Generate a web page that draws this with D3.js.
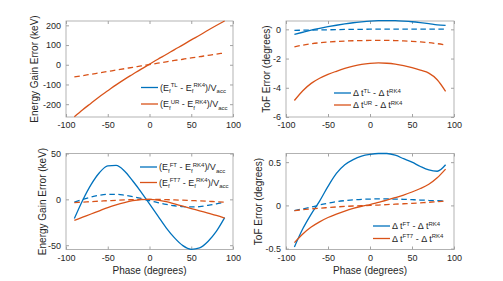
<!DOCTYPE html>
<html>
<head>
<meta charset="utf-8">
<script src="https://cdn.jsdelivr.net/npm/d3@7"></script>
<style>
  body { margin: 0; background: #fff; }
  svg { display: block; }
  text { font-family: "Liberation Sans", Arial, sans-serif; fill: #262626; }
</style>
</head>
<body>
<svg id="chart" width="503" height="281"></svg>
<script>
// phase grid (degrees)
const phase = [-90, -80, -70, -60, -50, -40, -30, -20, -10, 0, 10, 20, 30, 40, 50, 60, 70, 80, 90];

// top left: energy gain error (keV)
const urGain     = [-264, -228, -195, -162, -132, -102, -74, -48, -22, 3, 28, 52, 77, 101, 126, 150, 175, 199, 222];
const urGainDash = [-61, -55, -48, -41, -34, -27, -20, -13, -6, 1, 8, 15, 22, 28, 35, 41, 48, 54, 60];
// TL coincides with UR in the original, so it is hidden under the orange lines
const tlGain     = [-264, -228, -195, -162, -132, -102, -74, -48, -22, 3, 28, 52, 77, 101, 126, 150, 175, 199, 222];
const tlGainDash = [-61, -55, -48, -41, -34, -27, -20, -13, -6, 1, 8, 15, 22, 28, 35, 41, 48, 54, 60];

// top right: ToF error (degrees)
const tlTof     = [-0.34, -0.2, -0.05, 0.07, 0.18, 0.28, 0.37, 0.45, 0.51, 0.56, 0.59, 0.6, 0.59, 0.56, 0.52, 0.46, 0.39, 0.31, 0.27];
const tlTofDash = [-0.07, -0.06, -0.05, -0.04, -0.03, -0.02, -0.01, 0, 0, 0.01, 0.01, 0.02, 0.02, 0.02, 0.02, 0.02, 0.02, 0.02, 0.02];
const urTof     = [-4.87, -4.2, -3.7, -3.35, -3.08, -2.87, -2.68, -2.52, -2.4, -2.33, -2.3, -2.32, -2.38, -2.48, -2.62, -2.8, -3.0, -3.45, -4.25];
const urTofDash = [-1.2, -1.08, -0.99, -0.92, -0.87, -0.83, -0.8, -0.78, -0.77, -0.76, -0.76, -0.76, -0.77, -0.79, -0.82, -0.86, -0.91, -0.98, -1.07];

// bottom left: energy gain error (keV)
const ftGain      = [-21, -1, 16, 29, 36.5, 37, 31, 20, 8, -5, -18, -31, -42, -50.5, -54.5, -53, -46, -35, -20];
const ftGainDash  = [-3, 0, 2.5, 4.5, 5.5, 5.5, 4.5, 3, 1, -1.5, -3.5, -5.5, -7, -8, -8.3, -8, -6.5, -5, -3];
const ft7Gain     = [-23, -19.5, -16, -12.5, -9, -6, -3.5, -1.5, -0.3, 0, -0.8, -2.5, -5, -7.5, -10, -12.5, -15, -17.5, -20.5];
const ft7GainDash = [-3.5, -3, -2.5, -2, -1.5, -1, -0.6, -0.3, -0.1, 0, -0.1, -0.3, -0.6, -0.9, -1.3, -1.7, -2.1, -2.6, -3];

// bottom right: ToF error (degrees)
const ftTof      = [-0.48, -0.27, -0.1, 0.05, 0.22, 0.37, 0.47, 0.53, 0.57, 0.59, 0.6, 0.6, 0.58, 0.54, 0.5, 0.45, 0.41, 0.395, 0.47];
const ftTofDash  = [-0.06, -0.04, -0.02, 0.005, 0.025, 0.043, 0.055, 0.064, 0.07, 0.073, 0.075, 0.075, 0.073, 0.07, 0.066, 0.062, 0.058, 0.054, 0.05];
const ft7Tof     = [-0.43, -0.33, -0.25, -0.19, -0.14, -0.1, -0.065, -0.035, -0.01, 0.01, 0.035, 0.06, 0.09, 0.12, 0.155, 0.195, 0.245, 0.32, 0.42];
const ft7TofDash = [-0.06, -0.05, -0.04, -0.032, -0.025, -0.018, -0.012, -0.007, -0.003, 0, 0.004, 0.009, 0.014, 0.019, 0.024, 0.03, 0.036, 0.043, 0.05];

const xTicks = [-100, -50, 0, 50, 100];
const BLUE = "#0072BD", ORANGE = "#D95319";

const svg = d3.select("#chart");
svg.append("rect").attr("width", 503).attr("height", 281).attr("fill", "#fff");

function drawPanel(p) {
    const x = d3.scaleLinear().domain([-100, 100]).range([p.left, p.right]);
    const y = d3.scaleLinear().domain(p.yDomain).range([p.bottom, p.top]);
    const g = svg.append("g");

    // ticks (inside, all four sides)
    const fmt = d => String(d);
    g.append("g").attr("transform", `translate(0,${p.bottom})`)
        .call(d3.axisBottom(x).tickValues(xTicks).tickSizeInner(-3).tickSizeOuter(0).tickPadding(5).tickFormat(fmt));
    g.append("g").attr("transform", `translate(0,${p.top})`)
        .call(d3.axisTop(x).tickValues(xTicks).tickSizeInner(-3).tickSizeOuter(0).tickFormat(""));
    g.append("g").attr("transform", `translate(${p.left},0)`)
        .call(d3.axisLeft(y).tickValues(p.yTicks).tickSizeInner(-3).tickSizeOuter(0).tickPadding(5).tickFormat(fmt));
    g.append("g").attr("transform", `translate(${p.right},0)`)
        .call(d3.axisRight(y).tickValues(p.yTicks).tickSizeInner(-3).tickSizeOuter(0).tickFormat(""));
    g.selectAll(".domain").remove();
    g.selectAll(".tick line").attr("stroke", "#8c8c8c").attr("stroke-width", 0.8);
    g.selectAll(".tick text").attr("font-size", 9).attr("fill", "#262626")
        .attr("font-family", "'Liberation Sans', Arial, sans-serif");

    g.append("rect")
        .attr("x", p.left).attr("y", p.top)
        .attr("width", p.right - p.left).attr("height", p.bottom - p.top)
        .attr("fill", "none").attr("stroke", "#a0a0a0").attr("stroke-width", 0.8);

    const line = d3.line().curve(d3.curveMonotoneX)
        .x((d, i) => x(phase[i])).y(d => y(d));

    p.series.filter(s => !s.hidden).forEach(s => {
        g.append("path").datum(s.values)
            .attr("d", line)
            .attr("fill", "none")
            .attr("stroke", s.color)
            .attr("stroke-width", 1.3)
            .attr("stroke-dasharray", s.dashed ? "5.5,3.5" : null);
    });

    // y label
    g.append("text")
        .attr("transform", `translate(${p.yLabelX},${(p.top + p.bottom) / 2}) rotate(-90)`)
        .attr("text-anchor", "middle").attr("dy", "0.35em")
        .attr("font-size", 10).text(p.yLabel);
    if (p.xLabel) {
        g.append("text")
            .attr("x", (p.left + p.right) / 2).attr("y", p.bottom + 24)
            .attr("text-anchor", "middle")
            .attr("font-size", 10).text(p.xLabel);
    }

    // legend
    p.legend.forEach((item, i) => {
        const cy = p.legendY[i];
        g.append("line")
            .attr("x1", p.legendX).attr("x2", p.legendX + 17)
            .attr("y1", cy).attr("y2", cy)
            .attr("stroke", item.color).attr("stroke-width", 1.3);
        const t = g.append("text").attr("x", p.legendX + 19).attr("y", cy + 3).attr("font-size", 9);
        item.parts.forEach(part => {
            const off = part.sub ? 2.5 : part.sup ? -3.5 : 0;
            t.append("tspan")
                .attr("y", cy + 3 + off)
                .attr("font-size", part.sub || part.sup ? 6 : 9)
                .text(part.t);
        });
    });
}

const energyLegend = (a, b) => [
    {color: BLUE, parts: [{t: "(E"}, {t: "f", sub: true}, {t: a, sup: true}, {t: " - E"}, {t: "f", sub: true}, {t: "RK4", sup: true}, {t: ")/V"}, {t: "acc", sub: true}]},
    {color: ORANGE, parts: [{t: "(E"}, {t: "f", sub: true}, {t: b, sup: true}, {t: " - E"}, {t: "f", sub: true}, {t: "RK4", sup: true}, {t: ")/V"}, {t: "acc", sub: true}]}
];
const tofLegend = (a, b) => [
    {color: BLUE, parts: [{t: "\u0394 t"}, {t: a, sup: true}, {t: " - \u0394 t"}, {t: "RK4", sup: true}]},
    {color: ORANGE, parts: [{t: "\u0394 t"}, {t: b, sup: true}, {t: " - \u0394 t"}, {t: "RK4", sup: true}]}
];

drawPanel({
    left: 66, right: 233, top: 21, bottom: 117,
    yDomain: [-265, 222], yTicks: [-200, -100, 0, 100, 200],
    yLabel: "Energy Gain Error (keV)", yLabelX: 34,
    series: [
        {values: tlGain, color: BLUE, hidden: true}, {values: tlGainDash, color: BLUE, dashed: true, hidden: true},
        {values: urGain, color: ORANGE}, {values: urGainDash, color: ORANGE, dashed: true}
    ],
    legend: energyLegend("TL", "UR"), legendX: 141, legendY: [87.5, 104]
});

drawPanel({
    left: 286, right: 454, top: 21, bottom: 117,
    yDomain: [-6, 0.57], yTicks: [-6, -4, -2, 0],
    yLabel: "ToF Error (degrees)", yLabelX: 266,
    series: [
        {values: tlTof, color: BLUE}, {values: tlTofDash, color: BLUE, dashed: true},
        {values: urTof, color: ORANGE}, {values: urTofDash, color: ORANGE, dashed: true}
    ],
    legend: tofLegend("TL", "UR"), legendX: 334, legendY: [93, 105]
});

drawPanel({
    left: 66, right: 233, top: 153.5, bottom: 249.5,
    yDomain: [-54.7, 50], yTicks: [-50, 0, 50],
    yLabel: "Energy Gain Error (keV)", yLabelX: 42, xLabel: "Phase (degrees)",
    series: [
        {values: ftGain, color: BLUE}, {values: ftGainDash, color: BLUE, dashed: true},
        {values: ft7Gain, color: ORANGE}, {values: ft7GainDash, color: ORANGE, dashed: true}
    ],
    legend: energyLegend("FT", "FT7"), legendX: 140, legendY: [167, 182.5]
});

drawPanel({
    left: 286, right: 454, top: 153.5, bottom: 249.5,
    yDomain: [-0.51, 0.6], yTicks: [-0.5, 0, 0.5],
    yLabel: "ToF Error (degrees)", yLabelX: 258, xLabel: "Phase (degrees)",
    series: [
        {values: ftTof, color: BLUE}, {values: ftTofDash, color: BLUE, dashed: true},
        {values: ft7Tof, color: ORANGE}, {values: ft7TofDash, color: ORANGE, dashed: true}
    ],
    legend: tofLegend("FT", "FT7"), legendX: 373, legendY: [226, 238.5]
});
</script>
</body>
</html>
